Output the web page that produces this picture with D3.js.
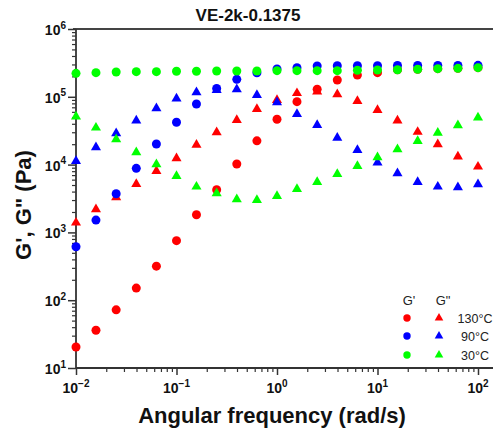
<!DOCTYPE html>
<html>
<head>
<meta charset="utf-8">
<script src="https://cdn.jsdelivr.net/npm/d3@7/dist/d3.min.js"></script>
<style>
  html, body { margin: 0; padding: 0; background: #fff; }
  svg { display: block; font-family: "Liberation Sans", Arial, sans-serif; }
</style>
</head>
<body>
<svg id="chart" width="493" height="433"></svg>
<script>
// Angular frequency sweep (rad/s), 5 points per decade
const freq = [0.01, 0.0158, 0.0251, 0.0398, 0.0631, 0.1, 0.158, 0.251, 0.398, 0.631,
              1, 1.58, 2.51, 3.98, 6.31, 10, 15.8, 25.1, 39.8, 63.1, 100];

// Storage modulus G' (Pa)
const gp130 = [20.4, 36, 72, 151, 318, 755, 1820, 4260, 10200, 22400,
               46600, 84700, 129000, 177000, 209000, 227000, 251000, 255000, 260000, 263000, 269000];
const gp90  = [615, 1520, 3720, 8810, 20100, 42100, 78300, 133000, 181000, 226000,
               257000, 269000, 285000, 288000, 288000, 288000, 290000, 290000, 290000, 290000, 291000];
const gp30  = [222000, 227000, 232000, 235000, 235000, 238000, 238000, 240000, 240000, 240000,
               243000, 243000, 243000, 243000, 246000, 248000, 251000, 255000, 260000, 263000, 269000];

// Loss modulus G'' (Pa)
const gpp130 = [1390, 2190, 3290, 5180, 8050, 12400, 19500, 29900, 45500, 66100,
                89700, 113000, 119000, 109000, 86700, 63800, 44500, 30300, 19900, 13100, 9310];
const gpp90  = [11300, 18000, 28900, 44500, 67600, 93800, 116000, 126000, 129000, 106000,
                83000, 55700, 38400, 24900, 16400, 10700, 7450, 5530, 4720, 4620, 5120];
const gpp30  = [50900, 35000, 23600, 15200, 10100, 6790, 4720, 3770, 3080, 3000,
                3440, 4370, 5530, 7260, 9530, 12800, 16800, 22300, 29500, 38000, 49200];

const xTicks = [0.01, 0.1, 1, 10, 100];
const xTickExp = ["\u22122", "\u22121", "0", "1", "2"];
const yTicks = [10, 100, 1000, 10000, 100000, 1000000];
const yTickExp = ["1", "2", "3", "4", "5", "6"];

const temps = ["130\u00B0C", "90\u00B0C", "30\u00B0C"];
const colors = ["#ff0000", "#0000ff", "#00ff00"];
const storage = [gp130, gp90, gp30];
const loss = [gpp130, gpp90, gpp30];

const svg = d3.select("#chart");
const m = { left: 76, right: 478, top: 29, bottom: 368, frameRight: 493 };

const x = d3.scaleLog().domain([0.01, 100]).range([m.left, m.right]);
const y = d3.scaleLog().domain([10, 1e6]).range([m.bottom, m.top]);

const axisColor = "#333";

// minor tick positions (2..9 of each decade)
const minorX = [];
for (let e = -2; e < 2; e++) for (let k = 2; k <= 9; k++) minorX.push(k * Math.pow(10, e));
const minorY = [];
for (let e = 1; e < 6; e++) for (let k = 2; k <= 9; k++) minorY.push(k * Math.pow(10, e));

// top frame line
svg.append("line")
  .attr("x1", m.left - 3).attr("x2", m.frameRight)
  .attr("y1", m.top).attr("y2", m.top)
  .attr("stroke", "#444").attr("stroke-width", 2);

// X axis
const gx = svg.append("g").attr("transform", `translate(0,${m.bottom})`);
gx.call(d3.axisBottom(x).tickValues(minorX).tickSize(4).tickFormat("").tickSizeOuter(0));
gx.selectAll(".tick line").attr("stroke", axisColor).attr("stroke-width", 1.2);
const gxMajor = svg.append("g").attr("transform", `translate(0,${m.bottom})`);
gxMajor.call(d3.axisBottom(x).tickValues(xTicks).tickSize(7).tickFormat("").tickSizeOuter(0));
gxMajor.selectAll(".tick line").attr("stroke", axisColor).attr("stroke-width", 1.5);
svg.selectAll(".domain").remove();
svg.append("line")
  .attr("x1", m.left).attr("x2", m.frameRight)
  .attr("y1", m.bottom).attr("y2", m.bottom)
  .attr("stroke", axisColor).attr("stroke-width", 1.8);

xTicks.forEach((v, i) => {
  const t = svg.append("text")
    .attr("x", x(v)).attr("y", m.bottom + 25)
    .attr("text-anchor", "middle")
    .attr("font-weight", "bold").attr("font-size", 14).attr("fill", "#111");
  t.append("tspan").text("10");
  t.append("tspan").attr("dy", -6).attr("font-size", 10).text(xTickExp[i]);
});

// Y axis
const gy = svg.append("g").attr("transform", `translate(${m.left},0)`);
gy.call(d3.axisLeft(y).tickValues(minorY).tickSize(4).tickFormat("").tickSizeOuter(0));
gy.selectAll(".tick line").attr("stroke", axisColor).attr("stroke-width", 1.2);
const gyMajor = svg.append("g").attr("transform", `translate(${m.left},0)`);
gyMajor.call(d3.axisLeft(y).tickValues(yTicks).tickSize(8).tickFormat("").tickSizeOuter(0));
gyMajor.selectAll(".tick line").attr("stroke", axisColor).attr("stroke-width", 1.5);
svg.selectAll(".domain").remove();
svg.append("line")
  .attr("x1", m.left).attr("x2", m.left)
  .attr("y1", m.top).attr("y2", m.bottom)
  .attr("stroke", axisColor).attr("stroke-width", 1.8);

yTicks.forEach((v, i) => {
  const t = svg.append("text")
    .attr("x", m.left - 10).attr("y", y(v) + 6)
    .attr("text-anchor", "end")
    .attr("font-weight", "bold").attr("font-size", 14).attr("fill", "#111");
  t.append("tspan").text("10");
  t.append("tspan").attr("dy", -6.5).attr("font-size", 10).text(yTickExp[i]);
});

// Titles
svg.append("text")
  .attr("x", 248).attr("y", 21)
  .attr("text-anchor", "middle")
  .attr("font-weight", "bold").attr("font-size", 17).attr("fill", "#111")
  .text("VE-2k-0.1375");

svg.append("text")
  .attr("x", 272).attr("y", 423)
  .attr("text-anchor", "middle")
  .attr("font-weight", "bold").attr("font-size", 22).attr("fill", "#111")
  .text("Angular frequency (rad/s)");

svg.append("text")
  .attr("transform", "translate(31,205) rotate(-90)")
  .attr("text-anchor", "middle")
  .attr("font-weight", "bold").attr("font-size", 22).attr("fill", "#111")
  .text("G', G\" (Pa)");

// Data markers
const tri = d3.symbol().type(d3.symbolTriangle).size(44);
const plot = svg.append("g");
storage.forEach((vals, k) => {
  plot.append("g").selectAll("circle")
    .data(vals.map((v, i) => [freq[i], v]))
    .join("circle")
    .attr("cx", d => x(d[0])).attr("cy", d => y(d[1]))
    .attr("r", 4.5).attr("fill", colors[k]);
  plot.append("g").selectAll("path")
    .data(loss[k].map((v, i) => [freq[i], v]))
    .join("path")
    .attr("d", tri)
    .attr("transform", d => `translate(${x(d[0])},${y(d[1])})`)
    .attr("fill", colors[k]);
});

// Legend
const lg = svg.append("g").attr("font-size", 13).attr("fill", "#222");
lg.append("text").attr("x", 409).attr("y", 305).attr("text-anchor", "middle").text("G'");
lg.append("text").attr("x", 443).attr("y", 305).attr("text-anchor", "middle").text("G\"");
const rowY = [318, 336, 355];
temps.forEach((t, k) => {
  lg.append("circle").attr("cx", 407).attr("cy", rowY[k]).attr("r", 3.7).attr("fill", colors[k]);
  lg.append("path").attr("d", d3.symbol().type(d3.symbolTriangle).size(32))
    .attr("transform", `translate(439,${rowY[k]})`).attr("fill", colors[k]);
  lg.append("text").attr("x", 475).attr("y", rowY[k] + 4.5)
    .attr("text-anchor", "middle").attr("font-size", 12.5).text(t);
});
</script>
</body>
</html>
